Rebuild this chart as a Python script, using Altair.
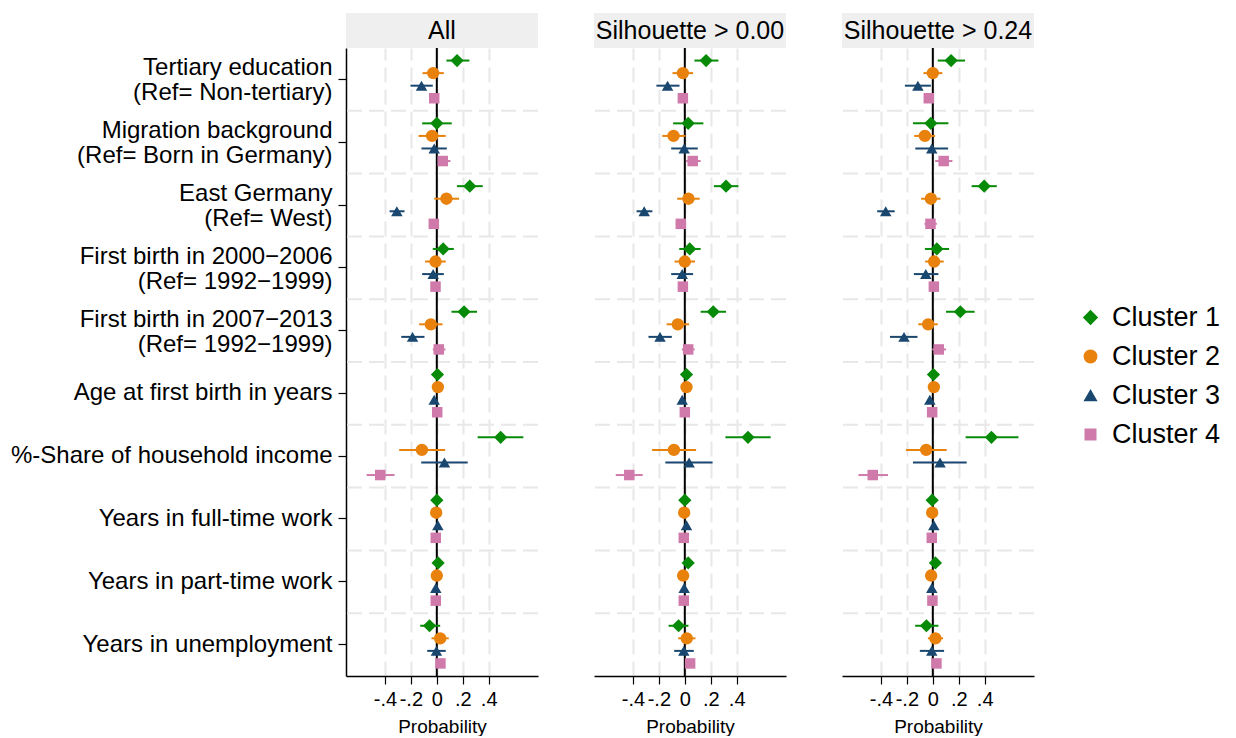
import altair as alt
import pandas as pd

# Covariates (rows), "|" marks a line break in the axis label
VARIABLES = [
    "Tertiary education|(Ref= Non-tertiary)",
    "Migration background|(Ref= Born in Germany)",
    "East Germany|(Ref= West)",
    "First birth in 2000\u22122006|(Ref= 1992\u22121999)",
    "First birth in 2007\u22122013|(Ref= 1992\u22121999)",
    "Age at first birth in years",
    "%-Share of household income",
    "Years in full-time work",
    "Years in part-time work",
    "Years in unemployment",
]
CLUSTERS = ["Cluster 1", "Cluster 2", "Cluster 3", "Cluster 4"]
PANELS = ["All", "Silhouette > 0.00", "Silhouette > 0.24"]

# Average marginal effects (one list per cluster, one value per covariate)
EST_ALL = [
    [0.156, 0.000, 0.254, 0.049, 0.210, 0.005, 0.492, 0.000, 0.010, -0.056],
    [-0.028, -0.036, 0.074, -0.010, -0.046, 0.008, -0.115, -0.005, 0.000, 0.026],
    [-0.118, -0.020, -0.308, -0.028, -0.187, -0.020, 0.059, 0.008, -0.008, -0.003],
    [-0.020, 0.046, -0.023, -0.010, 0.015, 0.003, -0.436, -0.008, -0.008, 0.028],
]
LO_ALL = [
    [0.074, -0.113, 0.156, -0.031, 0.113, -0.005, 0.315, -0.010, 0.000, -0.128],
    [-0.110, -0.141, -0.020, -0.090, -0.136, -0.002, -0.290, -0.015, -0.010, -0.041],
    [-0.203, -0.118, -0.364, -0.113, -0.274, -0.030, -0.120, -0.002, -0.018, -0.074],
    [-0.035, 0.008, -0.056, -0.020, -0.031, -0.007, -0.541, -0.018, -0.018, 0.015],
]
HI_ALL = [
    [0.251, 0.115, 0.354, 0.131, 0.310, 0.015, 0.667, 0.010, 0.020, 0.026],
    [0.054, 0.069, 0.172, 0.069, 0.044, 0.018, 0.064, 0.005, 0.010, 0.092],
    [-0.031, 0.077, -0.249, 0.054, -0.095, -0.010, 0.238, 0.018, 0.002, 0.069],
    [-0.005, 0.105, 0.013, 0.000, 0.067, 0.013, -0.326, 0.002, 0.002, 0.041],
]

EST_S000 = [
    [0.164, 0.026, 0.318, 0.038, 0.219, 0.013, 0.487, 0.000, 0.026, -0.048],
    [-0.015, -0.087, 0.028, 0.000, -0.054, 0.013, -0.084, -0.005, -0.013, 0.015],
    [-0.133, -0.005, -0.313, -0.020, -0.191, -0.020, 0.033, 0.013, -0.005, -0.008],
    [-0.015, 0.061, -0.031, -0.015, 0.026, 0.000, -0.428, -0.008, -0.008, 0.041],
]
LO_S000 = [
    [0.074, -0.090, 0.224, -0.043, 0.122, 0.003, 0.313, -0.010, 0.016, -0.125],
    [-0.095, -0.174, -0.059, -0.079, -0.140, 0.003, -0.252, -0.015, -0.023, -0.051],
    [-0.219, -0.105, -0.372, -0.105, -0.280, -0.030, -0.150, 0.003, -0.015, -0.082],
    [-0.030, 0.010, -0.069, -0.025, -0.023, -0.010, -0.532, -0.018, -0.018, 0.031],
]
HI_S000 = [
    [0.259, 0.143, 0.413, 0.122, 0.318, 0.023, 0.662, 0.010, 0.036, 0.028],
    [0.064, 0.005, 0.115, 0.079, 0.033, 0.023, 0.087, 0.005, -0.003, 0.082],
    [-0.041, 0.100, -0.250, 0.064, -0.100, -0.010, 0.214, 0.023, 0.005, 0.069],
    [0.000, 0.122, 0.010, -0.005, 0.076, 0.010, -0.324, 0.002, 0.002, 0.051],
]

EST_S024 = [
    [0.141, -0.015, 0.396, 0.031, 0.212, 0.005, 0.452, -0.005, 0.020, -0.049],
    [0.000, -0.061, -0.015, 0.010, -0.036, 0.008, -0.051, -0.005, -0.013, 0.020],
    [-0.115, -0.008, -0.363, -0.054, -0.222, -0.023, 0.056, 0.008, -0.008, -0.008],
    [-0.031, 0.084, -0.018, 0.008, 0.046, -0.005, -0.463, -0.008, -0.003, 0.028],
]
LO_S024 = [
    [0.038, -0.153, 0.299, -0.061, 0.102, -0.005, 0.253, -0.015, 0.010, -0.136],
    [-0.072, -0.143, -0.090, -0.059, -0.112, -0.002, -0.207, -0.015, -0.023, -0.038],
    [-0.215, -0.135, -0.429, -0.146, -0.330, -0.033, -0.153, -0.002, -0.018, -0.100],
    [-0.045, 0.018, -0.064, -0.002, -0.005, -0.015, -0.573, -0.018, -0.013, 0.018],
]
HI_S024 = [
    [0.248, 0.120, 0.493, 0.125, 0.322, 0.015, 0.660, 0.005, 0.030, 0.043],
    [0.074, 0.018, 0.059, 0.084, 0.038, 0.018, 0.107, 0.005, -0.003, 0.079],
    [-0.015, 0.118, -0.294, 0.043, -0.118, -0.013, 0.261, 0.018, 0.002, 0.087],
    [-0.017, 0.151, 0.031, 0.018, 0.102, 0.005, -0.345, 0.002, 0.007, 0.038],
]

X_TICKS = [-0.4, -0.2, 0.0, 0.2, 0.4]
X_DOMAIN = [-0.70, 0.78]

COLORS = ["#078a07", "#e8820c", "#1a476f", "#cf7aab"]
SHAPES = ["diamond", "circle", "triangle-up", "square"]
SIZES = [175, 110, 175, 125]

FONT = "Liberation Sans"
PANEL_W = 192
PANEL_H = 628
GRID = "#e8e8e8"


def panel_frame(est, lo, hi):
    rows = []
    for ci, cl in enumerate(CLUSTERS):
        for vi, var in enumerate(VARIABLES):
            rows.append({"var": var, "cluster": cl,
                         "est": est[ci][vi], "lo": lo[ci][vi], "hi": hi[ci][vi]})
    return pd.DataFrame(rows)


def make_panel(title, est, lo, hi, first):
    df = panel_frame(est, lo, hi)

    if first:
        y_axis = alt.Axis(
            title=None, labelExpr="split(datum.label, '|')",
            labelFontSize=24, labelLineHeight=25, labelColor="black",
            # two-line labels are lifted so that the pair is centred on the tick
            labelOffset={"condition": {"test": "indexof(datum.label, '|') >= 0",
                                       "value": -11},
                         "value": 0},
            labelPadding=6, tickSize=8, tickColor="black", tickWidth=1.2,
            domainColor="black", domainWidth=1.5, grid=False, labelLimit=500,
        )
    else:
        y_axis = None

    y_scale = alt.Scale(paddingInner=0, paddingOuter=0)
    y_enc = alt.Y("var:N", sort=VARIABLES, axis=y_axis, scale=y_scale)
    y_off = alt.YOffset("cluster:N", sort=CLUSTERS,
                        scale=alt.Scale(paddingInner=0, paddingOuter=0.5))
    x_scale = alt.Scale(domain=X_DOMAIN, nice=False, zero=False)
    x_axis = alt.Axis(
        values=X_TICKS, title="Probability", titleFontSize=19,
        titleFontWeight="normal", titleColor="black", titlePadding=8,
        labelExpr="datum.value == 0 ? '0' : (datum.value < 0 ? '-' : '') + '.' + round(abs(datum.value) * 10)",
        labelFontSize=20, labelColor="black", labelOverlap=False, labelPadding=5,
        tickSize=8, tickColor="black", tickWidth=1.2,
        domainColor="black", domainWidth=1.5,
        grid=True, gridColor=GRID, gridWidth=2, gridDash=[15, 7],
    )

    # dashed separators between covariate rows
    sep = alt.Chart(pd.DataFrame({"var": VARIABLES[1:]})).mark_rule(
        color=GRID, strokeWidth=2, strokeDash=[15, 7]
    ).encode(y=alt.Y("var:N", sort=VARIABLES, bandPosition=0, axis=y_axis,
                     scale=y_scale))

    zero = alt.Chart(pd.DataFrame({"v": [0.0]})).mark_rule(
        color="black", strokeWidth=2
    ).encode(x=alt.X("v:Q", scale=x_scale, axis=x_axis))

    color = alt.Color("cluster:N", sort=CLUSTERS,
                      scale=alt.Scale(domain=CLUSTERS, range=COLORS),
                      legend=alt.Legend(title=None))
    shape = alt.Shape("cluster:N", sort=CLUSTERS,
                      scale=alt.Scale(domain=CLUSTERS, range=SHAPES),
                      legend=alt.Legend(title=None))

    ci = alt.Chart(df).mark_rule(strokeWidth=2).encode(
        x=alt.X("lo:Q", scale=x_scale), x2="hi:Q",
        y=y_enc, yOffset=y_off,
        color=color,
    )

    pts = alt.Chart(df).mark_point(filled=True, opacity=1).encode(
        x=alt.X("est:Q", scale=x_scale),
        y=y_enc, yOffset=y_off,
        color=color, shape=shape,
        size=alt.Size("cluster:O", sort=CLUSTERS,
                      scale=alt.Scale(domain=CLUSTERS, range=SIZES), legend=None),
    )

    body = alt.layer(sep, zero, ci, pts).properties(width=PANEL_W, height=PANEL_H)

    header = alt.Chart(pd.DataFrame({"t": [title]})).mark_text(
        fontSize=25, font=FONT, color="black"
    ).encode(text="t:N").properties(
        width=PANEL_W, height=35,
        view=alt.ViewBackground(fill="#efefef", stroke=None),
    )

    return alt.vconcat(header, body, spacing=0, bounds="flush")


panels = [
    make_panel(PANELS[0], EST_ALL, LO_ALL, HI_ALL, True),
    make_panel(PANELS[1], EST_S000, LO_S000, HI_S000, False),
    make_panel(PANELS[2], EST_S024, LO_S024, HI_S024, False),
]

chart = alt.hconcat(*panels, spacing=54).properties(
    padding={"left": 10, "top": 13, "right": 5, "bottom": 0},
).configure(
    font=FONT,
).configure_view(
    stroke=None,
).configure_legend(
    orient="none", legendX=731, legendY=291,
    labelFontSize=27, labelColor="black", symbolSize=190,
    rowPadding=11, symbolOpacity=1, labelOffset=8,
)

chart.save("out.html", embed_options={"renderer": "svg", "actions": False})
